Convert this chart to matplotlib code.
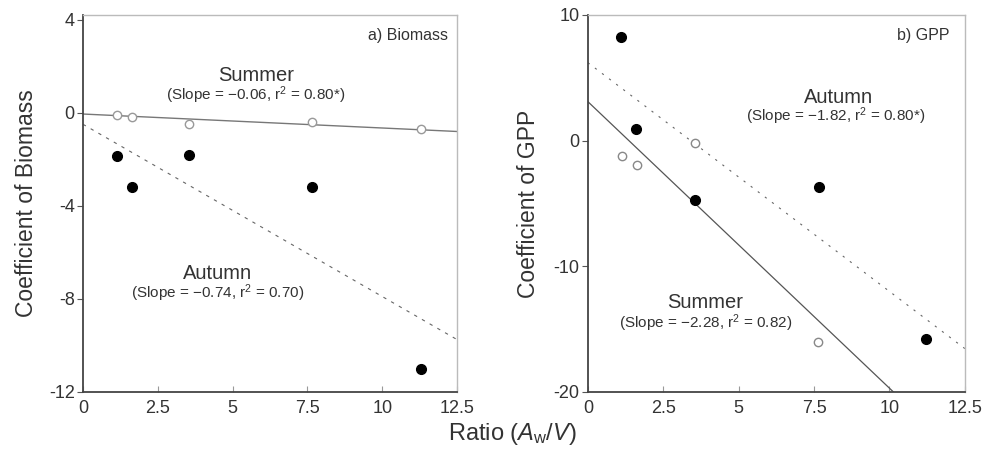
import matplotlib.pyplot as plt
import numpy as np

plt.rcParams['font.family'] = ['Liberation Sans', 'DejaVu Sans']
plt.rcParams['mathtext.fontset'] = 'custom'
plt.rcParams['mathtext.rm'] = 'Liberation Sans'
plt.rcParams['mathtext.it'] = 'Liberation Sans:italic'
plt.rcParams['axes.unicode_minus'] = False

# ratio A_w/V for each site
ratio = [1.13, 1.65, 3.55, 7.65, 11.3]

# a) biomass coefficients
bio_summer = [-0.09, -0.17, -0.47, -0.39, -0.69]
bio_autumn = [-1.85, -3.2, -1.8, -3.2, -11.0]

# b) GPP coefficients (summer at 11.3 falls below the axis)
gpp_ratio_summer = [1.13, 1.64, 3.54, 7.62]
gpp_summer = [-1.25, -1.97, -0.22, -16.0]
gpp_ratio_autumn = [1.11, 1.6, 3.54, 7.66, 11.2]
gpp_autumn = [8.27, 0.95, -4.76, -3.7, -15.8]

# regression lines: (intercept, slope)
bio_fit_summer = (-0.06, -0.06)
bio_fit_autumn = (-0.5, -0.74)
gpp_fit_summer = (3.1, -2.28)
gpp_fit_autumn = (6.2, -1.82)

xticks = [0, 2.5, 5, 7.5, 10, 12.5]
xticklabels = ['0', '2.5', '5', '7.5', '10', '12.5']

fig = plt.figure(figsize=(9.83, 4.51), dpi=100)
ax1 = fig.add_axes([0.0844, 0.131, 0.3805, 0.836])
ax2 = fig.add_axes([0.598, 0.131, 0.3835, 0.836])

xx = np.array([0, 12.5])
txt = '#333333'


def style_axes(ax, ylim, yticks):
    ax.set_xlim(0, 12.5)
    ax.set_ylim(*ylim)
    ax.set_xticks(xticks)
    ax.set_xticklabels(xticklabels)
    ax.set_yticks(yticks)
    ax.tick_params(axis='x', direction='in', length=4, width=0.8, color='#999999',
                   labelsize=13, labelcolor=txt, pad=6)
    ax.tick_params(axis='y', direction='out', length=4, width=0.8, color='#555555',
                   labelsize=13, labelcolor=txt, pad=2)
    for side in ['left', 'bottom']:
        ax.spines[side].set_color('#444444')
        ax.spines[side].set_linewidth(1.3)
    for side in ['top', 'right']:
        ax.spines[side].set_color('#bbbbbb')
        ax.spines[side].set_linewidth(1.0)


# a) Biomass
ax1.plot(xx, bio_fit_summer[0] + bio_fit_summer[1] * xx, color='#777777', lw=1.0)
ax1.plot(xx, bio_fit_autumn[0] + bio_fit_autumn[1] * xx, color='#666666', lw=0.8,
         dashes=(3, 5))
ax1.plot(ratio, bio_summer, 'o', mfc='white', mec='#999999', mew=1.0, ms=6)
ax1.plot(ratio, bio_autumn, 'o', color='black', ms=7)
style_axes(ax1, (-12, 4.2), [4, 0, -4, -8, -12])
ax1.set_ylabel('Coefficient of Biomass', fontsize=16.5, color=txt)
ax1.yaxis.set_label_coords(-0.12, 0.5)
ax1.text(0.975, 0.945, 'a) Biomass', transform=ax1.transAxes, ha='right', va='center',
         fontsize=11.5, color=txt)
ax1.text(5.8, 1.6, 'Summer', ha='center', va='center', fontsize=14.5, color=txt)
ax1.text(5.77, 0.75, r'(Slope = $-$0.06, r$^2$ = 0.80*)', ha='center', va='center',
         fontsize=11, color=txt)
ax1.text(4.5, -6.9, 'Autumn', ha='center', va='center', fontsize=14.5, color=txt)
ax1.text(4.5, -7.76, r'(Slope = $-$0.74, r$^2$ = 0.70)', ha='center', va='center',
         fontsize=11, color=txt)

# b) GPP
ax2.plot(xx, gpp_fit_summer[0] + gpp_fit_summer[1] * xx, color='#555555', lw=0.9)
ax2.plot(xx, gpp_fit_autumn[0] + gpp_fit_autumn[1] * xx, color='#666666', lw=0.8,
         dashes=(2, 6))
ax2.plot(gpp_ratio_summer, gpp_summer, 'o', mfc='white', mec='#888888', mew=1.0, ms=6)
ax2.plot(gpp_ratio_autumn, gpp_autumn, 'o', color='black', ms=7)
style_axes(ax2, (-20, 10), [10, 0, -10, -20])
ax2.set_ylabel('Coefficient of GPP', fontsize=16.5, color=txt)
ax2.yaxis.set_label_coords(-0.127, 0.5)
ax2.text(0.96, 0.945, 'b) GPP', transform=ax2.transAxes, ha='right', va='center',
         fontsize=11.5, color=txt)
ax2.text(8.3, 3.46, 'Autumn', ha='center', va='center', fontsize=14.5, color=txt)
ax2.text(8.2, 1.95, r'(Slope = $-$1.82, r$^2$ = 0.80*)', ha='center', va='center',
         fontsize=11, color=txt)
ax2.text(3.9, -12.9, 'Summer', ha='center', va='center', fontsize=14.5, color=txt)
ax2.text(3.9, -14.5, r'(Slope = $-$2.28, r$^2$ = 0.82)', ha='center', va='center',
         fontsize=11, color=txt)

fig.text(0.521, 0.038, r'Ratio ($A_{\mathrm{w}}/V$)', ha='center', va='center',
         fontsize=17, color=txt)

fig.savefig('out.png', dpi=100, facecolor='white')
